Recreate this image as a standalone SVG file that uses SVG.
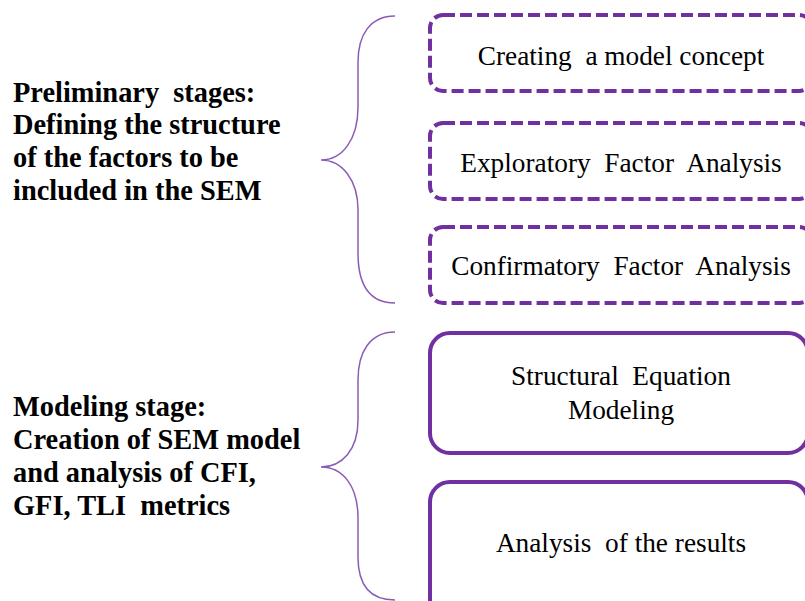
<svg xmlns="http://www.w3.org/2000/svg" width="805" height="601" viewBox="0 0 805 601">
  <style>
    .stage { font-family: 'Liberation Serif', 'DejaVu Serif', serif; font-weight: bold; font-size: 28.4px; fill: #000; white-space: pre; }
    .label { font-family: 'Liberation Serif', 'DejaVu Serif', serif; font-size: 27.3px; fill: #000; text-anchor: middle; white-space: pre; }
    .dashed { fill: #fff; stroke: #7030A0; stroke-width: 4; stroke-dasharray: 12 5; }
    .solid { fill: #fff; stroke: #7030A0; stroke-width: 4; }
    .brace { fill: none; stroke: #8a5cb8; stroke-width: 1.5; }
  </style>
  <rect width="805" height="601" fill="#fff"/>

  <!-- stage descriptions -->
  <g id="stage-preliminary">
    <text class="stage" x="13" y="102">Preliminary  stages:</text>
    <text class="stage" x="13" y="134">Defining the structure</text>
    <text class="stage" x="13" y="167">of the factors to be</text>
    <text class="stage" x="13" y="200">included in the SEM</text>
  </g>
  <g id="stage-modeling">
    <text class="stage" x="13" y="416">Modeling stage:</text>
    <text class="stage" x="13" y="449">Creation of SEM model</text>
    <text class="stage" x="13" y="482">and analysis of CFI,</text>
    <text class="stage" x="13" y="515">GFI, TLI  metrics</text>
  </g>

  <!-- braces grouping the steps -->
  <g id="connectors">
    <path class="brace" d="M395,16 C370,16 358,35 358,62 L358,107 C358,140 342,160 321,160 C342,160 358,180 358,210 L358,253 C358,285 370,303 395,303"/>
    <path class="brace" d="M395,332 C370,332 358,352 358,380 L358,420 C358,450 342,467 321,467 C342,467 358,485 358,518 L358,557 C358,585 370,600 395,600"/>
  </g>

  <!-- steps -->
  <g id="step-concept">
    <rect class="dashed" x="430" y="15" width="382" height="76" rx="13"/>
    <text class="label" x="621" y="65">Creating  a model concept</text>
  </g>
  <g id="step-efa">
    <rect class="dashed" x="430" y="123" width="382" height="76" rx="13"/>
    <text class="label" x="621" y="172">Exploratory  Factor  Analysis</text>
  </g>
  <g id="step-cfa">
    <rect class="dashed" x="430" y="227" width="382" height="76" rx="13"/>
    <text class="label" x="621" y="275">Confirmatory  Factor  Analysis</text>
  </g>
  <g id="step-sem">
    <rect class="solid" x="430" y="333" width="378" height="120" rx="20"/>
    <text class="label" x="621" y="385">Structural  Equation</text>
    <text class="label" x="621" y="419">Modeling</text>
  </g>
  <g id="step-results">
    <rect class="solid" x="430" y="482" width="378" height="140" rx="20"/>
    <text class="label" x="621" y="552">Analysis  of the results</text>
  </g>
</svg>
